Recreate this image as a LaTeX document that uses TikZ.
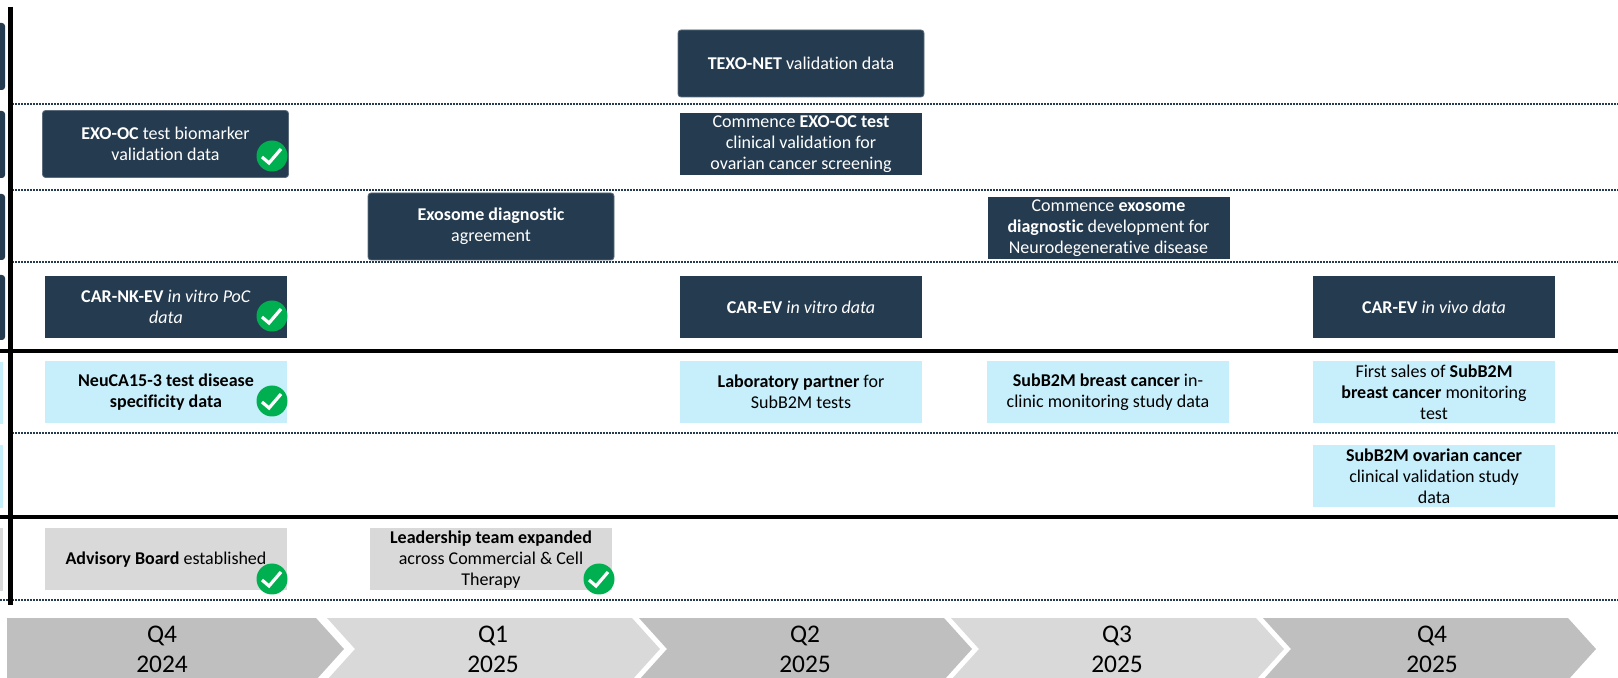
\documentclass[tikz,border=0pt]{standalone}
\usepackage{fontspec}
\setmainfont{Carlito}[Ligatures=NoCommon]
\usepackage{tikz}
\definecolor{navy}{HTML}{253B50}
\definecolor{paleblue}{HTML}{C7EEFB}
\definecolor{boxgrey}{HTML}{D9D9D9}
\definecolor{chevdark}{HTML}{BFBFBF}
\definecolor{chevlight}{HTML}{D9D9D9}
\definecolor{okgreen}{HTML}{00B050}
\tikzset{mile/.style={inner sep=0pt, align=center, minimum width=121pt, minimum height=31pt, font=\fontsize{9}{10.5}\selectfont}}
\tikzset{navybox/.style={mile, fill=navy, text=white}}
\tikzset{navyround/.style={navybox, rounded corners=1.5pt, draw=navy!75!white, line width=0.4pt, minimum width=123pt, minimum height=33.5pt}}
\tikzset{bluebox/.style={mile, fill=paleblue, text=black}}
\tikzset{greybox/.style={mile, fill=boxgrey, text=black}}
\tikzset{rowline/.style={navy, line width=1pt, dash pattern=on 0.9pt off 0.6pt}}
\tikzset{sepline/.style={black, line width=2pt}}
\tikzset{quarter/.style={inner sep=0pt, align=center, font=\fontsize{12.7}{15}\selectfont}}

\begin{document}
\begin{tikzpicture}[x=0.5pt,y=-0.5pt]
\useasboundingbox (0,0) rectangle (1618,678);
% row labels, cut off at the left edge
\foreach \a/\b in {23/90,111/178,194/260,275/340}
  \fill[navy, rounded corners=1.5pt] (-10,\a) rectangle (5,\b);
\foreach \a/\b in {362/424,445/508}
  \fill[paleblue] (-10,\a) rectangle (3,\b);
\fill[boxgrey] (-10,528) rectangle (3,591);

\foreach \y in {104,190,262,433}
  \draw[rowline] (12,\y) -- (1618,\y);
\draw[rowline] (0,600) -- (1618,600);
\draw[sepline] (0,351) -- (1618,351);
\draw[sepline] (0,517) -- (1618,517);
\draw[black, line width=2.2pt] (10.5,7) -- (10.5,605);

\node[navyround] (texo) at (801,63.5) {\textbf{TEXO-NET} validation data};
\node[navyround] (exooc) at (165.5,144) {\textbf{EXO-OC} test biomarker\\validation data};
\node[navybox] (commoc) at (801,144.5) {Commence \textbf{EXO-OC test}\\clinical validation for\\ovarian cancer screening};
\node[navyround] (exoagr) at (491,226.5) {\textbf{Exosome diagnostic}\\agreement};
\node[navybox] (commexo) at (1108.5,228) {Commence \textbf{exosome}\\\textbf{diagnostic} development for\\Neurodegenerative disease};
\node[navybox] (carnk) at (166,307) {\textbf{CAR-NK-EV} \textit{in vitro PoC}\\\textit{data}};
\node[navybox] (carvitro) at (801,307) {\textbf{CAR-EV} \textit{in vitro data}};
\node[navybox] (carvivo) at (1434,307) {\textbf{CAR-EV} \textit{in vivo data}};

\node[bluebox] (neuca) at (166,392) {\textbf{NeuCA15-3 test disease}\\\textbf{specificity data}};
\node[bluebox] (labp) at (801,392) {\textbf{Laboratory partner} for\\SubB2M tests};
\node[bluebox] (breast) at (1108,392) {\textbf{SubB2M breast cancer} in-\\clinic monitoring study data};
\node[bluebox] (sales) at (1434,392) {First sales of \textbf{SubB2M}\\\textbf{breast cancer} monitoring\\test};
\node[bluebox] (ovarian) at (1434,476.5) {\textbf{SubB2M ovarian cancer}\\clinical validation study\\data};

\node[greybox] (advisory) at (166,559.5) {\textbf{Advisory Board} established};
\node[greybox] (leader) at (491,559.5) {\textbf{Leadership team expanded}\\across Commercial \& Cell\\Therapy};

% done marks
\foreach \cx/\cy in {272/156,272/316,272/401,272/579,599/579} {
  \fill[okgreen] (\cx,\cy) circle[radius=7.75pt];
  \draw[white, line width=1.6pt] (\cx-10,\cy+1) -- (\cx-3,\cy+7) -- (\cx+9,\cy-7);
}

% quarters
\fill[chevdark] (7,618) -- (316,618) -- (344,649) -- (316,680) -- (7,680) -- cycle;
\foreach \l/\col in {327/chevlight,639/chevdark,951/chevlight,1263/chevdark}
  \fill[\col] (\l,618) -- (\l+305,618) -- (\l+333,649) -- (\l+305,680) -- (\l,680) -- (\l+28,649) -- cycle;
\node[quarter] (q4a) at (162,649) {Q4\\2024};
\node[quarter] (q1) at (493,649) {Q1\\2025};
\node[quarter] (q2) at (805,649) {Q2\\2025};
\node[quarter] (q3) at (1117,649) {Q3\\2025};
\node[quarter] (q4b) at (1432,649) {Q4\\2025};
\end{tikzpicture}
\end{document}
